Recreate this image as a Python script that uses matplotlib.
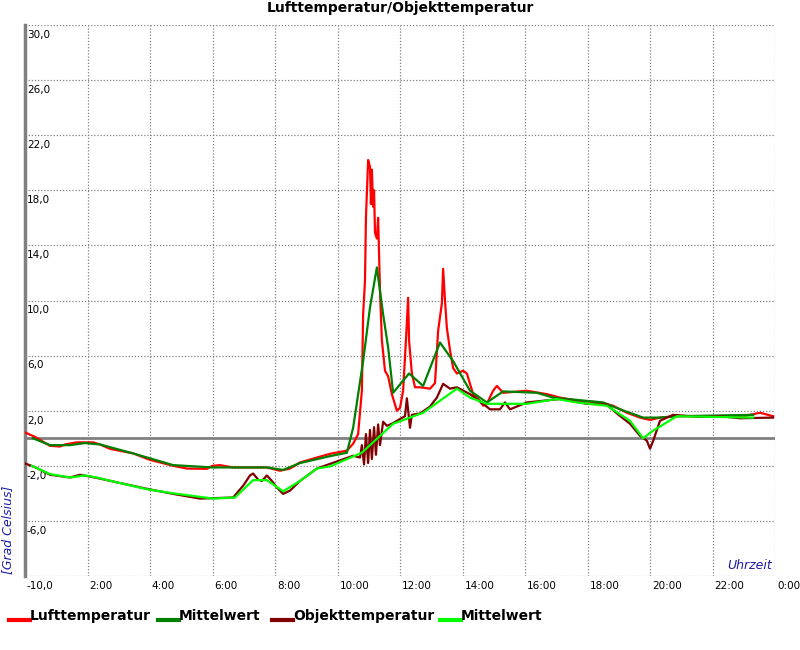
import matplotlib
matplotlib.use('Agg')
import matplotlib.pyplot as plt

# Lufttemperatur (raw), hours / deg C
air_t = [0, 0.32, 0.8, 1.12, 1.28, 1.66, 2.18, 2.4, 2.72, 3.46, 4.0, 4.74, 5.18, 5.82, 6.0, 6.24,
         6.66, 7.74, 8.16, 8.48, 8.8, 9.34, 9.76, 10.3, 10.5, 10.66, 10.78, 10.82, 10.88, 10.91,
         10.98, 11.04, 11.07, 11.1, 11.14, 11.17, 11.2, 11.26, 11.3, 11.36, 11.42, 11.52, 11.62,
         11.74, 11.9, 12.0, 12.1, 12.19, 12.26, 12.29, 12.38, 12.48, 12.64, 12.96, 13.12, 13.22,
         13.34, 13.38, 13.44, 13.5, 13.6, 13.7, 13.82, 14.02, 14.14, 14.34, 14.56, 14.66, 14.78,
         14.98, 15.1, 15.3, 16.06, 16.7, 17.12, 17.76, 18.4, 18.82, 19.26, 19.68, 20.0, 20.32,
         20.86, 22.98, 23.52, 23.94]
air_v = [0.42, 0.1, -0.55, -0.6, -0.45, -0.3, -0.3, -0.45, -0.77, -1.1, -1.57, -2.0, -2.2, -2.22,
         -2.0, -1.95, -2.12, -2.12, -2.36, -2.2, -1.76, -1.4, -1.13, -0.9, -0.4, 0.3, 3.45, 9.0,
         11.45, 16.0, 20.2, 19.7, 17.0, 19.5, 16.8, 18.0, 14.9, 14.5, 16.0, 10.7, 7.1, 4.9, 4.5,
         3.2, 2.0, 2.2, 3.45, 7.1, 10.2, 7.1, 4.7, 3.7, 3.7, 3.6, 4.0, 7.8, 9.8, 12.3, 10.0, 8.0,
         6.4, 5.1, 4.7, 4.9, 4.7, 3.2, 2.7, 2.36, 2.5, 3.45, 3.8, 3.3, 3.45, 3.2, 2.95, 2.7, 2.6,
         2.36, 1.85, 1.5, 1.33, 1.5, 1.6, 1.6, 1.85, 1.6]

# Mittelwert Lufttemperatur
air_mean_t = [0.25, 0.8, 1.44, 1.92, 2.4, 3.46, 4.74, 6.0, 7.74, 8.26, 8.8, 9.76, 10.3, 10.5,
              10.82, 11.04, 11.26, 11.46, 11.62, 11.78, 12.29, 12.74, 13.28, 13.7, 14.24, 14.78,
              15.3, 16.38, 16.9, 18.5, 19.04, 19.78, 20.32, 20.86, 23.3]
air_mean_v = [0.0, -0.5, -0.5, -0.35, -0.45, -1.1, -1.95, -2.12, -2.12, -2.3, -1.8, -1.3, -1.05,
              0.76, 5.6, 9.5, 12.4, 9.0, 6.6, 3.3, 4.7, 3.8, 6.95, 5.6, 3.45, 2.6, 3.4, 3.3, 2.95,
              2.6, 2.1, 1.5, 1.5, 1.6, 1.7]

# Objekttemperatur (raw)
obj_t = [0, 0.32, 0.8, 1.44, 1.76, 2.3, 2.94, 3.9, 4.74, 5.6, 6.02, 6.66, 6.98, 7.2, 7.3, 7.46,
         7.58, 7.74, 7.9, 8.06, 8.26, 8.48, 8.8, 9.34, 9.76, 10.5, 10.72, 10.78, 10.85, 10.91,
         10.98, 11.04, 11.1, 11.17, 11.23, 11.3, 11.36, 11.46, 11.58, 11.78, 12.0, 12.16, 12.22,
         12.32, 12.38, 12.64, 12.96, 13.18, 13.38, 13.6, 13.82, 14.24, 14.66, 14.88, 15.2, 15.36,
         15.52, 16.06, 17.12, 17.98, 18.62, 18.94, 19.36, 19.68, 19.9, 20.0, 20.1, 20.32, 20.74,
         21.6, 22.24, 22.88, 23.94]
obj_v = [-1.83, -2.1, -2.65, -2.85, -2.65, -2.88, -3.2, -3.67, -4.04, -4.38, -4.35, -4.3, -3.45,
         -2.7, -2.56, -3.0, -3.1, -2.7, -3.1, -3.58, -4.04, -3.8, -3.1, -2.2, -1.86, -1.27, -1.4,
         -0.5, -1.9, 0.3, -1.8, 0.6, -1.5, 0.8, -1.2, 1.0, -0.5, 1.2, 0.9, 1.1, 1.4, 1.6, 2.9,
         0.76, 1.7, 1.8, 2.3, 2.95, 3.95, 3.6, 3.7, 3.2, 2.5, 2.1, 2.1, 2.6, 2.1, 2.6, 2.85, 2.5,
         2.45, 1.8, 1.05, 0.18, -0.18, -0.76, -0.2, 1.27, 1.7, 1.55, 1.6, 1.45, 1.5]

# Mittelwert Objekttemperatur
obj_mean_t = [0.22, 0.8, 1.44, 1.92, 2.3, 2.94, 3.9, 4.74, 6.02, 6.72, 7.3, 7.74, 8.26, 8.8,
              9.34, 9.76, 10.78, 11.78, 12.74, 13.82, 14.24, 14.78, 16.06, 17.02, 17.66, 18.62,
              19.36, 19.78, 20.1, 20.86, 23.3]
obj_mean_v = [-2.0, -2.6, -2.85, -2.7, -2.85, -3.2, -3.7, -4.0, -4.38, -4.3, -3.04, -3.04, -3.85,
              -3.1, -2.2, -2.05, -1.05, 1.05, 1.85, 3.6, 2.95, 2.5, 2.5, 2.85, 2.6, 2.36, 1.27,
              0.0, 0.55, 1.6, 1.5]

y_ticks = [30, 26, 22, 18, 14, 10, 6, 2, -2, -6, -10]
x_ticks = [2, 4, 6, 8, 10, 12, 14, 16, 18, 20, 22, 24]
x_labels = ['2:00', '4:00', '6:00', '8:00', '10:00', '12:00', '14:00', '16:00', '18:00',
            '20:00', '22:00', '0:00']

legend_names = ['Lufttemperatur', 'Mittelwert', 'Objekttemperatur', 'Mittelwert']
colors = ['#ff0000', '#008000', '#800000', '#00ff00']

fig = plt.figure(figsize=(8, 6.5), dpi=100)
ax = fig.add_axes([25/800, 1-576/650, 750/800, 551/650])
ax.set_xlim(0, 24)
ax.set_ylim(-10, 30)

# grid
for v in y_ticks:
    ax.axhline(v, color='#808080', lw=0.9, ls=(0, (1, 1.5)), zorder=1)
for h in x_ticks:
    ax.axvline(h, color='#808080', lw=0.9, ls=(0, (1, 1.5)), zorder=1)
ax.axhline(0, color='#808080', lw=2, zorder=2)

ax.plot(air_t, air_v, color=colors[0], lw=1.6, zorder=3)
ax.plot(air_mean_t, air_mean_v, color=colors[1], lw=1.6, zorder=4)
ax.plot(obj_t, obj_v, color=colors[2], lw=1.6, zorder=5)
ax.plot(obj_mean_t, obj_mean_v, color=colors[3], lw=1.6, zorder=6)

for s in ['top', 'right', 'bottom']:
    ax.spines[s].set_visible(False)
ax.spines['left'].set_color('#808080')
ax.spines['left'].set_linewidth(2.5)
ax.set_xticks([])
ax.set_yticks([])

for v in y_ticks:
    ax.text(0.06, v - 0.35, '%d,0' % v, fontsize=7.5, va='top', ha='left', clip_on=False)
for h, lab in zip(x_ticks, x_labels):
    ax.text(h + 0.06, -10.35, lab, fontsize=7.5, va='top', ha='left', clip_on=False)

ax.text(23.9, -9.7, 'Uhrzeit', fontsize=9, style='italic', color='#1c1ca8',
        ha='right', va='bottom')
fig.text(8/800, 1-530/650, '[Grad Celsius]', fontsize=9, style='italic', color='#1c1ca8',
         rotation=90, ha='center', va='center')

fig.text(0.5, 1-8/650, 'Lufttemperatur/Objekttemperatur', fontsize=10, fontweight='bold',
         ha='center', va='center')

# legend row
leg_x = [9, 158, 272, 440]
for x0, name, c in zip(leg_x, legend_names, colors):
    fig.add_artist(plt.Line2D([x0/800, (x0+21)/800], [1-620/650, 1-620/650], color=c, lw=3))
    fig.text((x0+21)/800, 1-616/650, name, fontsize=10, fontweight='bold', ha='left', va='center')

fig.savefig('out.png', dpi=100)
